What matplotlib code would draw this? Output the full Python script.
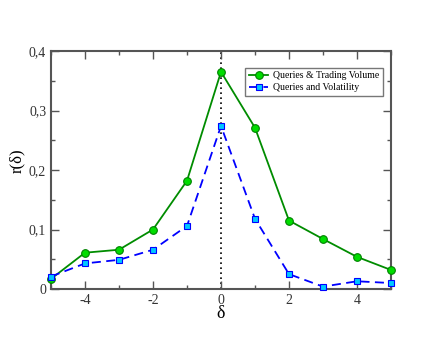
import matplotlib
matplotlib.use("Agg")
import matplotlib.pyplot as plt
from matplotlib.ticker import MultipleLocator

delta = [-5, -4, -3, -2, -1, 0, 1, 2, 3, 4, 5]
trading_volume = [0.017, 0.061, 0.066, 0.100, 0.182, 0.365, 0.271, 0.115, 0.084, 0.054, 0.032]
volatility = [0.021, 0.043, 0.049, 0.066, 0.106, 0.274, 0.118, 0.025, 0.004, 0.013, 0.010]
xticks = [-4, -2, 0, 2, 4]
yticks = [0, 0.1, 0.2, 0.3, 0.4]
ytick_labels = ["0", "0,1", "0,2", "0,3", "0,4"]

plt.rcParams['font.family'] = ['Liberation Serif', 'DejaVu Serif']

fig = plt.figure(figsize=(4.4, 3.4), dpi=100)
ax = fig.add_axes([51/440, 1-289/340, 340/440, 238/340])

ax.axvline(0, color='black', linestyle=(0, (1, 2)), linewidth=1.2, zorder=1)
ax.plot(delta, trading_volume, color='#008c00', linewidth=1.3, marker='o', markersize=5.5,
        markerfacecolor='#00dd00', markeredgecolor='#008000', markeredgewidth=0.8,
        label='Queries & Trading Volume', zorder=3, clip_on=False)
ax.plot(delta, volatility, color='#0000ff', linewidth=1.3, linestyle=(0, (5, 3)), marker='s', markersize=5,
        markerfacecolor='#00c8ff', markeredgecolor='#0000ff', markeredgewidth=0.8,
        label='Queries and Volatility', zorder=3, clip_on=False)

ax.set_xlim(-5, 5)
ax.set_ylim(0, 0.4)
ax.set_xticks(xticks)
ax.set_xticklabels([str(t) for t in xticks])
ax.xaxis.set_minor_locator(MultipleLocator(1))
ax.set_yticks(yticks)
ax.set_yticklabels(ytick_labels)
ax.yaxis.set_minor_locator(MultipleLocator(0.05))

for s in ax.spines.values():
    s.set_color('#555555')
    s.set_linewidth(1.5)
ax.tick_params(which='both', direction='in', top=True, right=True, color='#555555',
               labelsize=10, labelcolor='#333333', width=1)
ax.tick_params(which='major', length=6)
ax.tick_params(which='minor', length=3)

ax.set_xlabel('δ', fontsize=13, labelpad=-1)
ax.set_ylabel('r(δ)', fontsize=12)
ax.yaxis.set_label_coords(-0.075, 0.54)

leg = ax.legend(loc='upper right', bbox_to_anchor=(0.976, 0.929), fontsize=7, frameon=True,
                fancybox=False, edgecolor='#555555', handlelength=2.0, borderpad=0.35,
                labelspacing=0.3, handletextpad=0.5, borderaxespad=0)
leg.get_frame().set_linewidth(1.0)

fig.savefig('out.png', dpi=100)
